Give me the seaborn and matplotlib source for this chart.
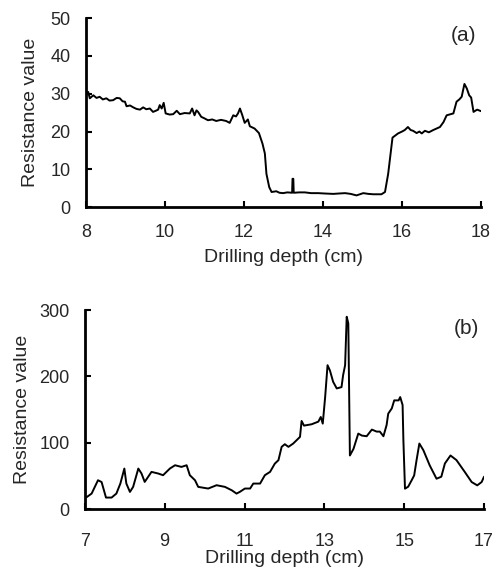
import pandas as pd
import seaborn as sns
import matplotlib.pyplot as plt

# (a) profundidad y resistencia
depth_a = [8.0, 8.03, 8.06, 8.1, 8.19, 8.27, 8.35, 8.43, 8.52, 8.6, 8.69, 8.78, 8.86, 8.93,
           8.99, 9.03, 9.12, 9.2, 9.28, 9.37, 9.45, 9.53, 9.62, 9.7, 9.77, 9.83, 9.87,
           9.92, 9.97, 10.02, 10.12, 10.21, 10.3, 10.38, 10.5, 10.63, 10.69, 10.75,
           10.8, 10.84, 10.92, 11.0, 11.09, 11.2, 11.3, 11.42, 11.55, 11.64, 11.73,
           11.8, 11.85, 11.9, 11.96, 12.02, 12.1, 12.15, 12.27, 12.38, 12.47, 12.53,
           12.57, 12.64, 12.7, 12.82, 12.9, 12.99, 13.1, 13.22, 13.23, 13.25, 13.26,
           13.4, 13.54, 13.7, 13.88, 14.05, 14.26, 14.4, 14.56, 14.7, 14.85, 15.02,
           15.15, 15.27, 15.48, 15.57, 15.65, 15.76, 15.9, 16.0, 16.07, 16.15, 16.22,
           16.28, 16.37, 16.44, 16.5, 16.58, 16.68, 16.79, 16.96, 17.05, 17.13, 17.3,
           17.38, 17.45, 17.51, 17.58, 17.64, 17.7, 17.75, 17.81, 17.9, 18.0]
resist_a = [29.6, 30.3, 30.5, 28.8, 29.6, 28.9, 29.2, 28.5, 28.8, 28.2, 28.3, 28.9, 28.8,
            28.0, 27.9, 26.7, 26.9, 26.4, 26.0, 25.8, 26.4, 25.9, 26.1, 25.2, 25.5,
            25.8, 27.0, 26.1, 27.6, 24.8, 24.5, 24.6, 25.5, 24.6, 24.9, 24.8, 26.1,
            24.3, 25.6, 25.2, 23.9, 23.5, 23.0, 23.2, 22.8, 23.1, 22.8, 22.3, 24.3,
            24.0, 24.8, 26.1, 24.3, 22.3, 23.2, 21.4, 20.8, 19.6, 16.8, 14.2,
            8.8, 5.3, 4.0, 4.2, 3.8, 3.7, 3.9, 3.8, 7.5, 7.5, 3.8,
            3.9, 3.9, 3.7, 3.7, 3.6, 3.5, 3.6, 3.7, 3.5, 3.1, 3.7,
            3.5, 3.4, 3.4, 4.0, 8.8, 18.4, 19.5, 20.0, 20.4, 21.2, 20.4,
            20.2, 19.6, 20.0, 19.5, 20.2, 19.8, 20.4, 21.2, 22.5, 24.3, 24.8,
            27.9, 28.5, 29.2, 32.6, 31.4, 29.6, 29.0, 25.2, 25.8, 25.4]

# (b)
depth_b = [7.03, 7.17, 7.33, 7.42, 7.53, 7.67, 7.79, 7.89, 7.99, 8.04, 8.13, 8.21, 8.34,
           8.42, 8.5, 8.67, 8.84, 8.96, 9.13, 9.26, 9.42, 9.55, 9.63, 9.76, 9.84, 10.09,
           10.3, 10.51, 10.68, 10.8, 10.88, 11.01, 11.14, 11.22, 11.39, 11.51, 11.64,
           11.76, 11.85, 11.93, 12.01, 12.1, 12.22, 12.39, 12.43, 12.49, 12.68, 12.85,
           12.91, 12.96, 13.02, 13.08, 13.14, 13.22, 13.31, 13.43, 13.47, 13.52, 13.56,
           13.6, 13.64, 13.73, 13.85, 13.94, 14.06, 14.19, 14.31, 14.39, 14.48, 14.56,
           14.6, 14.69, 14.75, 14.86, 14.9, 14.96, 14.98, 15.02, 15.1, 15.19, 15.25,
           15.31, 15.38, 15.48, 15.64, 15.81, 15.93, 16.02, 16.16, 16.31, 16.52, 16.69,
           16.83, 16.94, 17.0]
resist_b = [17.6, 23.6, 43.7, 41, 17.6, 17.6, 23.6, 38.7, 61.3, 38.7, 26.1, 33.7, 61.3,
            53.8, 41.2, 56.3, 53.8, 51.3, 61.3, 66.3, 63.8, 66.3, 51.3, 43.7, 33.7, 31.2,
            36.2, 33.7, 28.6, 23.6, 26.1, 31.2, 31.2, 38.7, 38.7, 51.3, 56.3,
            68.8, 73.9, 94, 98, 94, 99, 109, 133, 126, 128, 132,
            139, 129, 169, 217, 209, 192, 182, 184, 202, 217, 290,
            280, 81, 91, 114, 111, 110, 120, 117, 117, 110, 127,
            144, 152, 164, 164, 169, 157, 104, 31, 34, 44, 51,
            74, 99, 89, 66, 46, 49, 69, 81, 74, 56, 41,
            36, 41, 49]

sns.set_style("ticks")
plt.rcParams['font.family'] = ['Liberation Sans', 'DejaVu Sans']

fig = plt.figure(figsize=(4.99, 5.69), dpi=100)
ax1 = fig.add_axes([0.172, 0.636, 0.792, 0.332])
ax2 = fig.add_axes([0.170, 0.105, 0.800, 0.350])

paneles = [
    (ax1, depth_a, resist_a, (8, 18), range(8, 19, 2), (0, 50), range(0, 51, 10), '(a)'),
    (ax2, depth_b, resist_b, (7, 17), range(7, 18, 2), (0, 300), range(0, 301, 100), '(b)'),
]

for ax, x, y, xlim, xt, ylim, yt, etiqueta in paneles:
    df = pd.DataFrame({'depth': x, 'value': y})
    sns.lineplot(data=df, x='depth', y='value', ax=ax, color='black', linewidth=1.4)
    ax.set_xlim(*xlim)
    ax.set_ylim(*ylim)
    ax.set_xticks(list(xt))
    ax.set_yticks(list(yt))
    ax.tick_params(direction='in', length=4, width=1.5, labelsize=13, color='black')
    for s in ['top', 'right']:
        ax.spines[s].set_visible(False)
    for s in ['left', 'bottom']:
        ax.spines[s].set_linewidth(2)
        ax.spines[s].set_color('black')
    ax.set_xlabel('Drilling depth (cm)', fontsize=14)
    ax.set_ylabel('Resistance value', fontsize=14)
    ax.text(0.955, 0.91, etiqueta, transform=ax.transAxes, fontsize=15,
            ha='center', va='center')

ax1.tick_params(axis='x', pad=12)
ax1.tick_params(axis='y', pad=11)
ax2.tick_params(axis='x', pad=17)
ax2.tick_params(axis='y', pad=11)
ax1.xaxis.labelpad = 6
ax2.xaxis.labelpad = 0
ax1.yaxis.labelpad = 8
ax2.yaxis.labelpad = 6

fig.savefig('out.png', dpi=100)
